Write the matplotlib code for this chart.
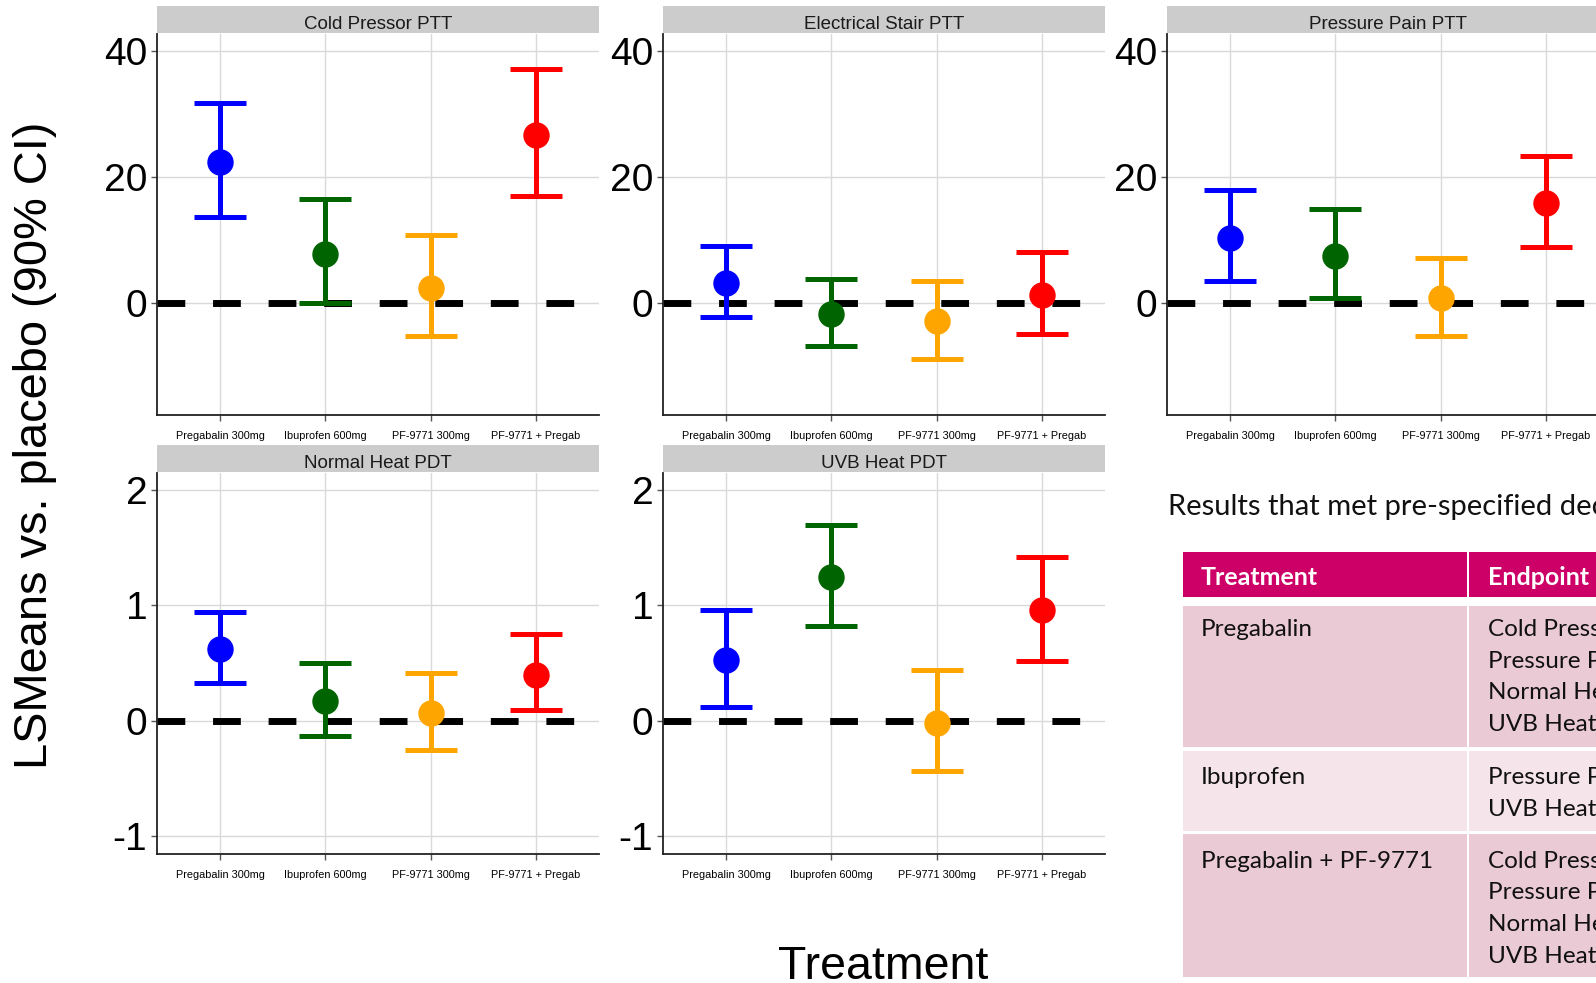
"""
LSMeans vs placebo (90% CI) per pain endpoint, plus the summary table on the right.
"""

import matplotlib.pyplot as plt
from matplotlib.patches import Rectangle

plt.rcParams['font.family'] = ['Liberation Sans', 'DejaVu Sans']
plt.rcParams['axes.unicode_minus'] = False

treatments = ["Pregabalin 300mg", "Ibuprofen 600mg", "PF-9771 300mg", "PF-9771 + Pregab"]
colors = ["#0000FF", "#006400", "#FFA500", "#FF0000"]

# estimates and 90% CI bounds
cold_pressor_est = [22.3, 7.8, 2.3, 26.7]
cold_pressor_lo = [13.6, 0.0, -5.2, 17.0]
cold_pressor_hi = [31.8, 16.5, 10.8, 37.1]

electrical_est = [3.1, -1.7, -2.9, 1.2]
electrical_lo = [-2.3, -6.8, -8.9, -5.0]
electrical_hi = [9.0, 3.8, 3.4, 8.1]

pressure_est = [10.3, 7.5, 0.7, 15.8]
pressure_lo = [3.5, 0.8, -5.2, 8.8]
pressure_hi = [17.9, 14.9, 7.2, 23.3]

normal_heat_est = [0.62, 0.17, 0.07, 0.40]
normal_heat_lo = [0.33, -0.13, -0.25, 0.09]
normal_heat_hi = [0.94, 0.50, 0.41, 0.75]

uvb_heat_est = [0.53, 1.25, -0.02, 0.96]
uvb_heat_lo = [0.12, 0.82, -0.44, 0.52]
uvb_heat_hi = [0.96, 1.70, 0.44, 1.42]

top_ticks = [0, 20, 40]
bottom_ticks = [-1, 0, 1, 2]

table_title = "Results that met pre-specified decision criteria"
table_header = ["Treatment", "Endpoint"]
table_treatments = ["Pregabalin", "Ibuprofen", "Pregabalin + PF-9771"]
table_endpoints = [
    ["Cold Pressor PTT", "Pressure Pain PTT", "Normal Heat PDT", "UVB Heat PDT"],
    ["Pressure Pain PTT", "UVB Heat PDT"],
    ["Cold Pressor PTT", "Pressure Pain PTT", "Normal Heat PDT", "UVB Heat PDT"],
]

W, H = 1596, 983
fig = plt.figure(figsize=(W / 100, H / 100), dpi=100)


def px_rect(x0, y0, x1, y1):
    # pixel box (top-left origin) -> figure fraction
    return [x0 / W, 1 - y1 / H, (x1 - x0) / W, (y1 - y0) / H]


panels = [
    ("Cold Pressor PTT", cold_pressor_est, cold_pressor_lo, cold_pressor_hi, 0, 0),
    ("Electrical Stair PTT", electrical_est, electrical_lo, electrical_hi, 0, 1),
    ("Pressure Pain PTT", pressure_est, pressure_lo, pressure_hi, 0, 2),
    ("Normal Heat PDT", normal_heat_est, normal_heat_lo, normal_heat_hi, 1, 0),
    ("UVB Heat PDT", uvb_heat_est, uvb_heat_lo, uvb_heat_hi, 1, 1),
]

col_x = [157, 663, 1167]
panel_w = 442
row_y = [34, 473]
panel_h = 381
strip_h = 28

for title, est, lo, hi, r, c in panels:
    x0, y0 = col_x[c], row_y[r]
    ax = fig.add_axes(px_rect(x0, y0, x0 + panel_w, y0 + panel_h))
    sax = fig.add_axes(px_rect(x0, y0 - strip_h, x0 + panel_w, y0 - 1))
    sax.set_facecolor("#CCCCCC")
    sax.set_xticks([])
    sax.set_yticks([])
    for s in sax.spines.values():
        s.set_visible(False)
    sax.text(0.5, 0.14, title, ha="center", va="baseline", fontsize=13.5, color="#1A1A1A",
             transform=sax.transAxes)

    xs = list(range(len(treatments)))
    ax.axhline(0, color="black", lw=5, linestyle=(0, (4, 4)), dash_capstyle="butt", zorder=2)
    for i in xs:
        ax.errorbar(xs[i], est[i], yerr=[[est[i] - lo[i]], [hi[i] - est[i]]], fmt="o",
                    color=colors[i], ms=18, elinewidth=3.6, capsize=19, capthick=3.6, zorder=3)

    ax.set_xlim(-0.6, 3.6)
    if r == 0:
        ax.set_ylim(-17.8, 42.7)
        ax.set_yticks(top_ticks)
    else:
        ax.set_ylim(-1.156, 2.148)
        ax.set_yticks(bottom_ticks)
    ax.set_xticks(xs)
    ax.set_xticklabels(treatments, fontsize=7.8)
    ax.grid(True, color="#D9D9D9", lw=1)
    ax.set_axisbelow(True)
    for side in ["top", "right"]:
        ax.spines[side].set_visible(False)
    for side in ["left", "bottom"]:
        ax.spines[side].set_color("#222222")
        ax.spines[side].set_linewidth(1.3)
    ax.tick_params(axis="y", labelsize=28, length=4, width=1, color="#555555", pad=3)
    ax.tick_params(axis="x", length=4.5, width=1, color="#555555", pad=7)

fig.text(35 / W, 1 - 445 / H, "LSMeans vs. placebo (90% CI)", rotation=90, fontsize=33.8,
         ha="center", va="center")
fig.text(883 / W, 1 - 979 / H, "Treatment", fontsize=33.5, ha="center", va="baseline")

# summary table, drawn in pixel coordinates on an overlay
tax = fig.add_axes([0, 0, 1, 1])
tax.set_xlim(0, W)
tax.set_ylim(H, 0)
tax.axis("off")
tax.patch.set_alpha(0)

tfont = ["Lato", "DejaVu Sans"]
tax.text(1168, 515, table_title, fontsize=21, family=tfont, va="baseline", ha="left", color="#111111")

c1_x0, c1_x1, c2_x0, c2_x1 = 1183, 1467, 1469, 1900
tax.add_patch(Rectangle((c1_x0, 552), c1_x1 - c1_x0, 45, color="#CC0066", lw=0))
tax.add_patch(Rectangle((c2_x0, 552), c2_x1 - c2_x0, 45, color="#CC0066", lw=0))
tax.text(1201, 585, table_header[0], fontsize=18, family=tfont, weight="bold", color="white", va="baseline")
tax.text(1488, 585, table_header[1], fontsize=18, family=tfont, weight="bold", color="white", va="baseline")

row_tops = [606, 751, 834]
row_bottoms = [747, 831, 977]
row_colors = ["#EACAD4", "#F5E4E9", "#EACAD4"]
line_gap = 31.7
for k in range(len(table_treatments)):
    top, bot = row_tops[k], row_bottoms[k]
    tax.add_patch(Rectangle((c1_x0, top), c1_x1 - c1_x0, bot - top, color=row_colors[k], lw=0))
    tax.add_patch(Rectangle((c2_x0, top), c2_x1 - c2_x0, bot - top, color=row_colors[k], lw=0))
    base = top + (30 if k == 0 else 33.5)
    tax.text(1201, base, table_treatments[k], fontsize=17.5, family=tfont, va="baseline", color="#111111")
    for j, ep in enumerate(table_endpoints[k]):
        tax.text(1488, base + j * line_gap, ep, fontsize=17.5, family=tfont, va="baseline", color="#111111")

fig.savefig("out.png", dpi=100)
